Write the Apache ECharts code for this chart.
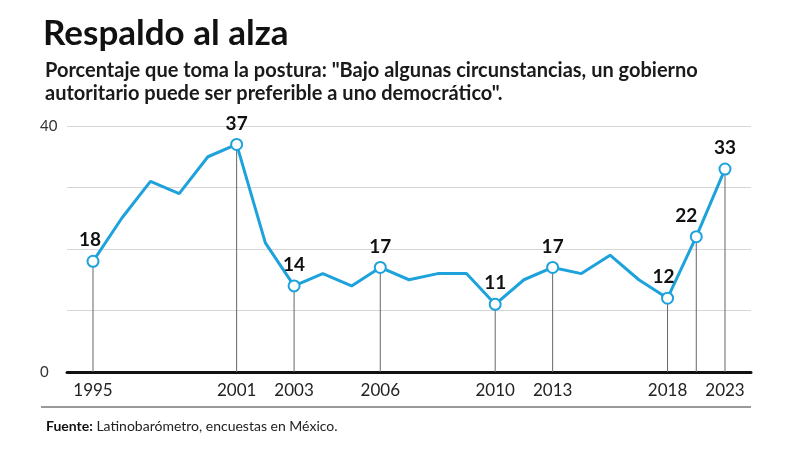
<!DOCTYPE html>
<html>
<head>
<meta charset="utf-8">
<script src="https://cdn.jsdelivr.net/npm/echarts@6/dist/echarts.min.js"></script>
<style>
  html, body { margin: 0; padding: 0; background: #fff; }
  #main { width: 800px; height: 450px; }
</style>
</head>
<body>
<div id="main"></div>
<script>
// encuestas Latinobarómetro (México)
var years = ['1995','1996','1997','1998','2000','2001','2002','2003','2004','2005','2006','2007','2008','2009','2010','2011','2013','2015','2016','2017','2018','2020','2023'];
var values = [18, 25, 31, 29, 35, 37, 21, 14, 16, 14, 17, 15, 16, 16, 11, 15, 17, 16, 19, 15, 12, 22, 33];
// años con marcador, etiqueta y línea vertical
var markedYears = ['1995','2001','2003','2006','2010','2013','2018','2020','2023'];
// años que aparecen en el eje
var axisYears = ['1995','2001','2003','2006','2010','2013','2018','2023'];
var yTickLabels = [0, 40];

var font = 'Lato, "Noto Sans", sans-serif';
var blue = '#1ea2dc';

var myChart = echarts.init(document.getElementById('main'));

var lineData = years.map(function (y, i) {
    var marked = markedYears.indexOf(y) > -1;
    var off = [0, 0];
    if (y === '2020') off = [-10, 0];
    if (y === '2018') off = [-4, 0];
    if (y === '1995') off = [-3, 0];
    return {
        value: values[i],
        symbolSize: marked ? 11 : 0,
        label: { show: marked, offset: off }
    };
});
var dropData = years.map(function (y, i) {
    return markedYears.indexOf(y) > -1 ? values[i] : '-';
});

var option = {
    backgroundColor: '#ffffff',
    animation: false,
    textStyle: { fontFamily: font },
    title: [
        {
            text: 'Respaldo al alza',
            left: 38, top: 11,
            textStyle: { fontSize: 35, fontWeight: 'bold', color: '#111', fontFamily: font }
        },
        {
            text: 'Porcentaje que toma la postura: "Bajo algunas circunstancias, un gobierno\nautoritario puede ser preferible a uno democrático".',
            left: 40, top: 54,
            textStyle: { fontSize: 20, fontWeight: 'bold', color: '#1a1a1a', lineHeight: 23, fontFamily: font }
        },
        {
            text: '{b|Fuente:} Latinobarómetro, encuestas en México.',
            left: 41, top: 414,
            textStyle: {
                fontSize: 14, fontWeight: 'normal', color: '#222', fontFamily: font,
                rich: { b: { fontWeight: 'bold', fontSize: 14, color: '#111', fontFamily: font } }
            }
        }
    ],
    graphic: [{
        type: 'line',
        shape: { x1: 41, y1: 407, x2: 751, y2: 407 },
        style: { stroke: '#999', lineWidth: 2 }
    }],
    grid: [
        { left: 67, right: 49, top: 126, bottom: 78 },
        { left: 93, right: 75, top: 126, bottom: 78 }
    ],
    xAxis: [
        {
            type: 'value', gridIndex: 0, min: 0, max: 1,
            axisLine: { show: true, lineStyle: { color: '#111', width: 3 } },
            axisTick: { show: false },
            axisLabel: { show: false },
            splitLine: { show: false }
        },
        {
            type: 'category', gridIndex: 1, data: years, boundaryGap: false,
            axisLine: { show: false },
            axisTick: { show: false },
            axisLabel: {
                interval: function (i, v) { return axisYears.indexOf(v) > -1; },
                fontSize: 17, color: '#222', margin: 10, fontFamily: font
            }
        }
    ],
    yAxis: [
        {
            type: 'value', gridIndex: 0, min: 0, max: 40, interval: 10,
            axisLine: { show: false },
            axisTick: { show: false },
            splitLine: { lineStyle: { color: '#d6d6d6', width: 1 } },
            axisLabel: {
                formatter: function (v) { return yTickLabels.indexOf(v) > -1 ? v : ''; },
                align: 'left', margin: 27, fontSize: 15, color: '#333', fontFamily: font
            }
        },
        {
            type: 'value', gridIndex: 1, min: 0, max: 40, show: false
        }
    ],
    series: [
        {
            name: 'guía',
            type: 'bar',
            xAxisIndex: 1, yAxisIndex: 1,
            barWidth: 1,
            silent: true,
            itemStyle: { color: '#666' },
            data: dropData
        },
        {
            name: 'Respaldo',
            type: 'line',
            xAxisIndex: 1, yAxisIndex: 1,
            symbol: 'emptyCircle',
            showAllSymbol: true,
            z: 3,
            lineStyle: { color: blue, width: 3 },
            itemStyle: { color: blue, borderWidth: 2.5 },
            label: {
                position: 'top', distance: 5,
                fontSize: 19, fontWeight: 'bold', color: '#111', fontFamily: font
            },
            data: lineData
        }
    ]
};

myChart.setOption(option);
</script>
</body>
</html>
